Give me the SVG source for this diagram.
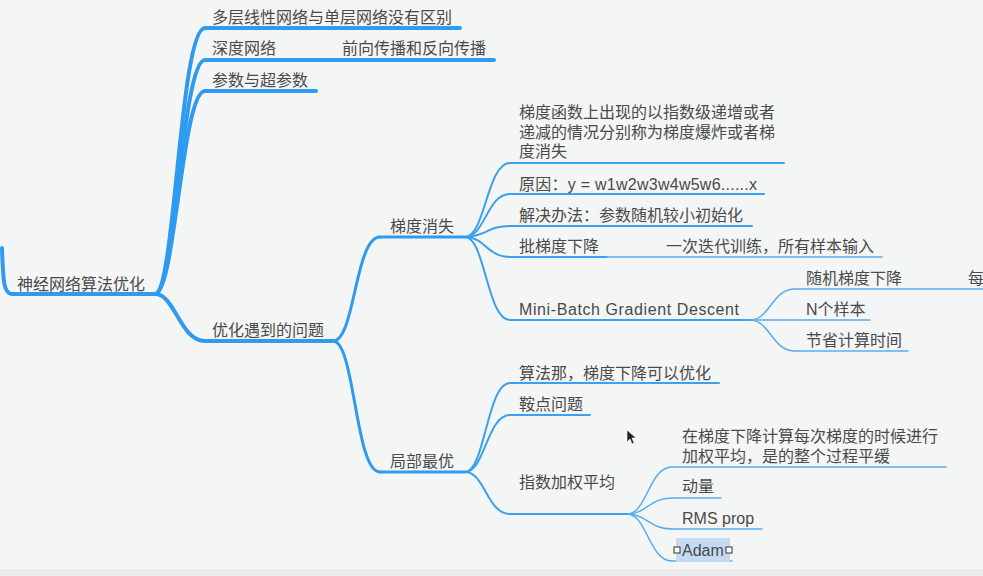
<svg xmlns="http://www.w3.org/2000/svg" width="983" height="576" viewBox="0 0 983 576">
<style>
text{font-family:"Liberation Sans","Noto Sans CJK SC",sans-serif;font-size:16px;fill:#4a4a4a}
.l1{fill:none;stroke:#2e9af0;stroke-width:4;stroke-linecap:round}
.l2{fill:none;stroke:#2e9af0;stroke-width:3;stroke-linecap:round}
.l3{fill:none;stroke:#3aa0ef;stroke-width:2;stroke-linecap:round}
.l4{fill:none;stroke:#55aeef;stroke-width:1.5;stroke-linecap:round}
</style>
<rect width="983" height="576" fill="#f4f5f5"/>
<rect y="569" width="983" height="7" fill="#ebecec"/>
<g id="connectors">
<path class="l1" d="M2,248 C3,282 4,294 12,294"/>
<path class="l1" d="M155,294 C175,294 180,28 205,28"/>
<path class="l1" d="M155,294 C175,294 182,60 205,60"/>
<path class="l1" d="M155,294 C175,294 182,91 205,91"/>
<path class="l1" d="M155,294 C175,294 180,341 205,341"/>
<path class="l2" d="M333,341 C355,341 355,237 380,237"/>
<path class="l2" d="M333,341 C355,341 355,472 380,472"/>
<path class="l3" d="M465,237 C485,237 487,163 510,163"/>
<path class="l3" d="M465,237 C485,237 487,194 510,194"/>
<path class="l3" d="M465,237 C485,237 487,226 510,226"/>
<path class="l3" d="M465,237 C485,237 487,257 510,257"/>
<path class="l3" d="M465,237 C485,237 487,320 510,320"/>
<path class="l3" d="M465,472 C485,472 487,383 510,383"/>
<path class="l3" d="M465,472 C485,472 487,415 510,415"/>
<path class="l3" d="M465,472 C485,472 487,514 510,514"/>
<path class="l4" d="M750,320 C770,320 772,289 795,289"/>
<path class="l4" d="M750,320 C770,320 772,320 795,320"/>
<path class="l4" d="M750,320 C770,320 772,351 795,351"/>
<path class="l4" d="M627,514 C647,514 649,467 672,467"/>
<path class="l4" d="M627,514 C647,514 649,498 672,498"/>
<path class="l4" d="M627,514 C647,514 649,529 672,529"/>
<path class="l4" d="M627,514 C647,514 649,561 672,561"/>
</g>
<g id="root">
<path class="l1" d="M12,294 H155"/>
<text x="17" y="290">神经网络算法优化</text>
</g>
<g id="n-multilayer">
<path class="l1" d="M205,28 H460"/>
<text x="212" y="23">多层线性网络与单层网络没有区别</text>
</g>
<g id="n-deep">
<path class="l1" d="M205,60 H494"/>
<text x="212" y="54">深度网络</text>
<text x="342" y="54">前向传播和反向传播</text>
</g>
<g id="n-params">
<path class="l1" d="M205,91 H316"/>
<text x="212" y="86">参数与超参数</text>
</g>
<g id="n-problems">
<path class="l1" d="M205,341 H333"/>
<text x="212" y="336">优化遇到的问题</text>
</g>
<g id="n-vanish">
<path class="l2" d="M380,237 H465"/>
<text x="390" y="232">梯度消失</text>
</g>
<g id="n-local">
<path class="l2" d="M380,472 H465"/>
<text x="390" y="467">局部最优</text>
</g>
<g id="n-def">
<path class="l3" d="M510,163 H784"/>
<text x="519" y="118">梯度函数上出现的以指数级递增或者</text>
<text x="519" y="138">递减的情况分别称为梯度爆炸或者梯</text>
<text x="519" y="157">度消失</text>
</g>
<g id="n-cause">
<path class="l3" d="M510,194 H764"/>
<text x="519" y="190" textLength="238" lengthAdjust="spacing">原因：y = w1w2w3w4w5w6......x</text>
</g>
<g id="n-solution">
<path class="l3" d="M510,226 H752"/>
<text x="519" y="221">解决办法：参数随机较小初始化</text>
</g>
<g id="n-batch">
<path class="l3" d="M510,257 H607"/>
<path class="l4" d="M607,257 H882"/>
<text x="519" y="252">批梯度下降</text>
<text x="666" y="252">一次迭代训练，所有样本输入</text>
</g>
<g id="n-minibatch">
<path class="l3" d="M510,320 H750"/>
<text x="519" y="315" textLength="220" lengthAdjust="spacing">Mini-Batch Gradient Descent</text>
</g>
<g id="n-sgd">
<path class="l4" d="M795,289 H990"/>
<text x="806" y="284">随机梯度下降</text>
<text x="968" y="284">每</text>
</g>
<g id="n-nsamples">
<path class="l4" d="M795,320 H870"/>
<text x="806" y="315">N个样本</text>
</g>
<g id="n-savetime">
<path class="l4" d="M795,351 H908"/>
<text x="806" y="346">节省计算时间</text>
</g>
<g id="n-algo">
<path class="l3" d="M510,383 H719"/>
<text x="519" y="379">算法那，梯度下降可以优化</text>
</g>
<g id="n-saddle">
<path class="l3" d="M510,415 H590"/>
<text x="519" y="410">鞍点问题</text>
</g>
<g id="n-ewa">
<path class="l3" d="M510,514 H627"/>
<text x="519" y="488">指数加权平均</text>
</g>
<g id="n-ewa-desc">
<path class="l4" d="M672,467 H946"/>
<text x="682" y="442">在梯度下降计算每次梯度的时候进行</text>
<text x="682" y="462">加权平均，是的整个过程平缓</text>
</g>
<g id="n-momentum">
<path class="l4" d="M672,498 H721"/>
<text x="682" y="492">动量</text>
</g>
<g id="n-rms">
<path class="l4" d="M672,529 H762"/>
<text x="682" y="524">RMS prop</text>
</g>
<g id="n-adam">
<path class="l4" d="M672,561 H732"/>
<rect x="676" y="538" width="54" height="24" fill="#c4daf3"/>
<text x="682" y="556">Adam</text>
<rect x="674" y="547" width="6" height="6" fill="#ffffff" stroke="#333" stroke-width="1"/>
<rect x="726" y="547" width="6" height="6" fill="#ffffff" stroke="#333" stroke-width="1"/>
</g>
<polygon points="627,430 627,442 630,439 632,444 634,443 632,438 636,438" fill="#222" stroke="#fff" stroke-width="0.6"/>
</svg>
